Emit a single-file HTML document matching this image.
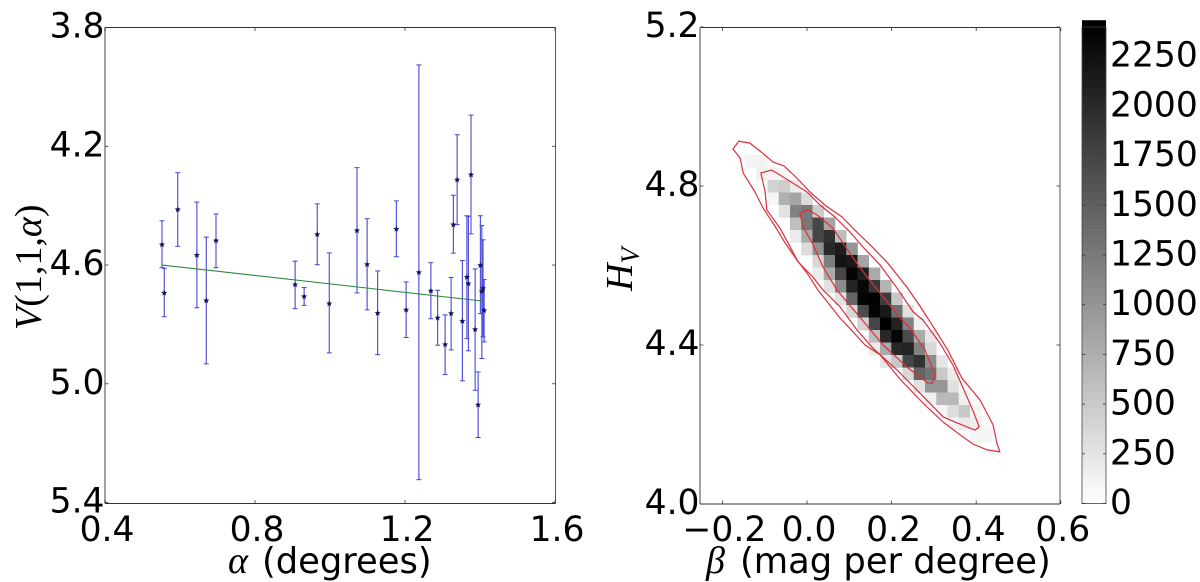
<!DOCTYPE html>
<html lang="en">
<head>
<meta charset="utf-8">
<title>Phase curve fit and parameter posterior</title>
<style>
html,body{margin:0;padding:0;background:#fff;width:1200px;height:582px;overflow:hidden}
svg{display:block}
text{font-family:"DejaVu Sans","Liberation Sans",sans-serif;fill:#000}
.tick{font-size:34.5px}
.label{font-size:35.3px}
.math{font-family:"Liberation Serif","DejaVu Serif",serif;font-style:italic}
.rm{font-family:"Liberation Serif","DejaVu Serif",serif}
</style>
</head>
<body>
<svg id="chart" xmlns="http://www.w3.org/2000/svg" width="1200" height="582" viewBox="0 0 1200 582">
  <text class="label" x="228" y="573"><tspan class="math" font-size="38">α</tspan><tspan x="262">(degrees)</tspan></text>
  <text class="label rm" transform="translate(41,330) rotate(-90)" style="font-size:38px"><tspan class="math">V</tspan>(1,1,<tspan class="math">α</tspan>)</text>
  <text class="label" x="706" y="573"><tspan class="math" font-size="38">β</tspan><tspan x="740">(mag per degree)</tspan></text>
  <text class="label math" transform="translate(632,291) rotate(-90)" style="font-size:38px">H<tspan font-size="26" dy="7">V</tspan></text>
</svg>
<script>
// ---- left panel data ----
const alphaValues = [0.552,0.558,0.594,0.645,0.670,0.696,0.907,0.931,0.966,0.998,1.072,1.099,1.127,1.177,1.203,1.237,1.269,1.287,1.307,1.323,1.329,1.339,1.353,1.365,1.369,1.376,1.387,1.395,1.401,1.405,1.408,1.411];
const magnitudeValues = [4.531,4.694,4.413,4.567,4.720,4.518,4.666,4.706,4.497,4.730,4.484,4.598,4.762,4.479,4.751,4.625,4.687,4.778,4.868,4.763,4.464,4.313,4.789,4.641,4.663,4.296,4.817,5.071,4.601,4.689,4.679,4.753];
const magnitudeUpper = [4.451,4.611,4.289,4.388,4.506,4.428,4.587,4.676,4.394,4.559,4.272,4.444,4.620,4.384,4.657,3.926,4.592,4.685,4.768,4.642,4.365,4.161,4.585,4.434,4.436,4.095,4.613,4.960,4.434,4.467,4.515,4.649];
const magnitudeLower = [4.609,4.774,4.537,4.744,4.933,4.609,4.747,4.736,4.599,4.896,4.694,4.751,4.902,4.572,4.844,5.323,4.781,4.870,4.969,4.886,4.560,4.464,4.990,4.848,4.889,4.495,5.022,5.181,4.764,4.915,4.842,4.859];
const fitAlpha = [0.552,1.411];
const fitMagnitude = [4.600,4.722];
const leftXTicks = [0.4,0.8,1.2,1.6];
const leftXTickLabels = ["0.4","0.8","1.2","1.6"];
const leftYTicks = [3.8,4.2,4.6,5.0,5.4];
const leftYTickLabels = ["3.8","4.2","4.6","5.0","5.4"];

// ---- right panel data ----
const rightXTicks = [-0.2,0.0,0.2,0.4,0.6];
const rightXTickLabels = ["\u22120.2","0.0","0.2","0.4","0.6"];
const rightYTicks = [5.2,4.8,4.4,4.0];
const rightYTickLabels = ["5.2","4.8","4.4","4.0"];
const colorbarTicks = [0,250,500,750,1000,1250,1500,1750,2000,2250];
const colorbarMax = 2395;
const histBetaStart = -0.253;
const histBetaStep = 0.0266;
const histHTop = 4.878;
const histHStep = 0.03145;
const histRowStartColumn = [4,5,6,6,7,8,8,9,10,10,11,12,13,14,15,15,16,18,19,20,21,22,24];
const histRowCounts = [
  [113,113],
  [141,113,66],
  [423,470,188],
  [94,751,845,329],
  [282,1174,1268,470],
  [610,1268,1737,845],
  [188,798,1737,1925,610],
  [329,1033,2019,2132,986],
  [376,1221,2207,2160,845],
  [188,798,1737,2348,2113,798],
  [282,1080,2066,2319,1878,704],
  [282,1455,2348,2395,1831,516],
  [376,1690,2348,2160,1362,282],
  [423,1737,2395,2066,1174,141],
  [610,2019,2348,1690,798,235],
  [188,798,2019,2066,1174,376],
  [235,516,1737,1925,1080,235],
  [376,1455,1315,516,188],
  [282,986,986,282,94],
  [141,657,657,141],
  [94,329,516,94],
  [94,188,141,66],
  [94,94]
];
const outerContourBeta = [-.175,-.161,-.135,-.111,-.080,-.054,-.024,.007,.045,.083,.113,.154,.191,.236,.267,.296,.333,.366,.409,.440,.449,.456,.426,.392,.362,.322,.274,.220,.173,.137,.109,.078,.026,0,-.024,-.052,-.076,-.104,-.123,-.151,-.158];
const outerContourH = [4.893,4.913,4.908,4.888,4.860,4.850,4.820,4.785,4.750,4.722,4.689,4.647,4.606,4.546,4.498,4.450,4.387,4.317,4.262,4.199,4.153,4.131,4.136,4.151,4.174,4.206,4.254,4.314,4.375,4.400,4.433,4.468,4.538,4.581,4.614,4.657,4.699,4.745,4.785,4.833,4.870];
const middleContourBeta = [-.109,-.083,-.057,0,.031,.066,.102,.132,.173,.213,.251,.274,.314,.345,.392,.407,.397,.355,.322,.267,.213,.156,.118,.078,.038,.014,-.021,-.045,-.064,-.095,-.099];
const middleContourH = [4.833,4.840,4.823,4.785,4.752,4.722,4.684,4.647,4.601,4.543,4.483,4.463,4.405,4.350,4.236,4.194,4.186,4.204,4.219,4.279,4.337,4.392,4.438,4.496,4.538,4.571,4.609,4.657,4.694,4.740,4.785];
const innerContourBeta = [-.017,.002,.024,.061,.109,.142,.180,.220,.243,.279,.303,.296,.286,.236,.180,.125,.071,.038,.012,-.009];
const innerContourH = [4.732,4.740,4.727,4.694,4.619,4.571,4.521,4.468,4.443,4.387,4.325,4.304,4.304,4.345,4.400,4.470,4.538,4.596,4.657,4.697];

// ---- axis functions ----
const NS = "http://www.w3.org/2000/svg";
const svg = document.getElementById("chart");
const leftX = v => 105 + (v - 0.4) * 375;
const leftY = v => 27.5 + (v - 3.8) * 296.9;
const rightX = v => 807 + v * 423;
const rightY = v => 504 - (v - 4.0) * 397.5;
const barY = v => 503.5 - v * 0.1988;
const gray = c => { const g = Math.round(255 - Math.min(1, c / colorbarMax) * 255); return "rgb(" + g + "," + g + "," + g + ")"; };

function make(tag, attrs, parent) {
  const el = document.createElementNS(NS, tag);
  for (const k in attrs) el.setAttribute(k, attrs[k]);
  (parent || svg).appendChild(el);
  return el;
}
function group() {
  return make("g", {});
}
function seg(x1, y1, x2, y2, stroke, w, parent) {
  return make("line", { x1: x1, y1: y1, x2: x2, y2: y2, stroke: stroke, "stroke-width": w }, parent);
}
function starPoints(cx, cy, r) {
  const pts = [];
  for (let i = 0; i < 10; i++) {
    const rad = i % 2 ? r * 0.45 : r;
    const a = -Math.PI / 2 + i * Math.PI / 5;
    pts.push((cx + rad * Math.cos(a)).toFixed(2) + "," + (cy + rad * Math.sin(a)).toFixed(2));
  }
  return pts.join(" ");
}

// ---- left panel: error bars, stars, fit ----
const leftPlot = group();


alphaValues.forEach((a, i) => {
  const x = leftX(a);
  const bar = make("g", {}, leftPlot);
  
  
  seg(x, leftY(magnitudeUpper[i]), x, leftY(magnitudeLower[i]), "#4646d8", 1.1, bar);
  seg(x - 2.5, leftY(magnitudeUpper[i]), x + 2.5, leftY(magnitudeUpper[i]), "#4646d8", 1, bar);
  seg(x - 2.5, leftY(magnitudeLower[i]), x + 2.5, leftY(magnitudeLower[i]), "#4646d8", 1, bar);
});
const fitLine = seg(leftX(fitAlpha[0]), leftY(fitMagnitude[0]), leftX(fitAlpha[1]), leftY(fitMagnitude[1]), "#2f8a3a", 1.1, leftPlot);


alphaValues.forEach((a, i) => {
  const star = make("polygon", { points: starPoints(leftX(a), leftY(magnitudeValues[i]), 3.2), fill: "#12125e" }, leftPlot);
  
  
});

// ---- right panel: histogram and contours ----
const heatmap = group();


histRowCounts.forEach((row, r) => {
  row.forEach((count, k) => {
    const col = histRowStartColumn[r] + k;
    const x0 = rightX(histBetaStart + col * histBetaStep);
    const x1 = rightX(histBetaStart + (col + 1) * histBetaStep);
    const y0 = rightY(histHTop - r * histHStep);
    const y1 = rightY(histHTop - (r + 1) * histHStep);
    const cell = make("rect", { x: x0, y: y0, width: x1 - x0 + 0.3, height: y1 - y0 + 0.3, fill: gray(count) }, heatmap);
    
    
  });
});
function contour(betas, hs, name) {
  const pts = betas.map((b, i) => rightX(b).toFixed(1) + "," + rightY(hs[i]).toFixed(1)).join(" ");
  const c = make("polygon", { points: pts, fill: "none", stroke: "#dc2f3c", "stroke-width": 1.2, "stroke-linejoin": "round" });
  
  
}
contour(outerContourBeta, outerContourH, 'outer-contour');
contour(middleContourBeta, middleContourH, 'middle-contour');
contour(innerContourBeta, innerContourH, 'inner-contour');

// ---- colorbar ----
const colorbar = group();


for (let c = 0; c < colorbarMax; c += 37.4) {
  make("rect", { x: 1082, y: barY(c + 37.4), width: 24, height: 37.4 * 0.1988 + 0.4, fill: gray(c + 18) }, colorbar);
}
const barFrame = make("rect", { x: 1082, y: 27, width: 24, height: 476.5, fill: "none", stroke: "#444", "stroke-width": 0.8 }, colorbar);


colorbarTicks.forEach(t => {
  const y = barY(t);
  seg(1082, y, 1085, y, "#333", 0.8, colorbar);
  seg(1103, y, 1106, y, "#333", 0.8, colorbar);
  const lab = make("text", { x: 1110, y: y + 10.5, class: "tick" });
  lab.textContent = String(t);
  
  
});

// ---- axes ----
function frame(x0, y0, x1, y1, name) {
  const g = group();
  
  
  seg(x0, y0, x1, y0, "#333", 1, g);
  seg(x1, y0, x1, y1, "#555", 1, g);
  seg(x0, y1, x1, y1, "#333", 1, g);
  seg(x0, y0, x0, y1, "#8a8a8a", 1.6, g);
  return g;
}
const leftFrame = frame(105, 27.5, 555.5, 503.5, 'left-axes-frame');
const rightFrame = frame(700, 27.5, 1060, 504, 'right-axes-frame');
function addXTicks(ticks, labels, sx, y0, y1, dx, g, name) {
  ticks.forEach((t, i) => {
    const x = sx(t);
    seg(x, y1, x, y1 - 3.5, "#333", 0.8, g);
    seg(x, y0, x, y0 + 3.5, "#333", 0.8, g);
    const lab = make("text", { x: x + dx, y: 541, "text-anchor": "middle", class: "tick" });
    lab.textContent = labels[i];
    
    
  });
}
function addYTicks(ticks, labels, sy, x0, x1, g, name) {
  ticks.forEach((t, i) => {
    const y = sy(t);
    seg(x0, y, x0 + 3.5, y, "#333", 0.8, g);
    seg(x1, y, x1 - 3.5, y, "#333", 0.8, g);
    const lab = make("text", { x: x0 - 0.5, y: y + 10, "text-anchor": "end", class: "tick" });
    lab.textContent = labels[i];
    
    
  });
}
addYTicks(leftYTicks, leftYTickLabels, leftY, 105, 555.5, leftFrame, 'left-y-tick-label');
addXTicks(leftXTicks, leftXTickLabels, leftX, 27.5, 503.5, 2, leftFrame, 'left-x-tick-label');
addYTicks(rightYTicks, rightYTickLabels, rightY, 700, 1060, rightFrame, 'right-y-tick-label');
addXTicks(rightXTicks, rightXTickLabels, rightX, 27.5, 504, 2, rightFrame, 'right-x-tick-label');
</script>
</body>
</html>
